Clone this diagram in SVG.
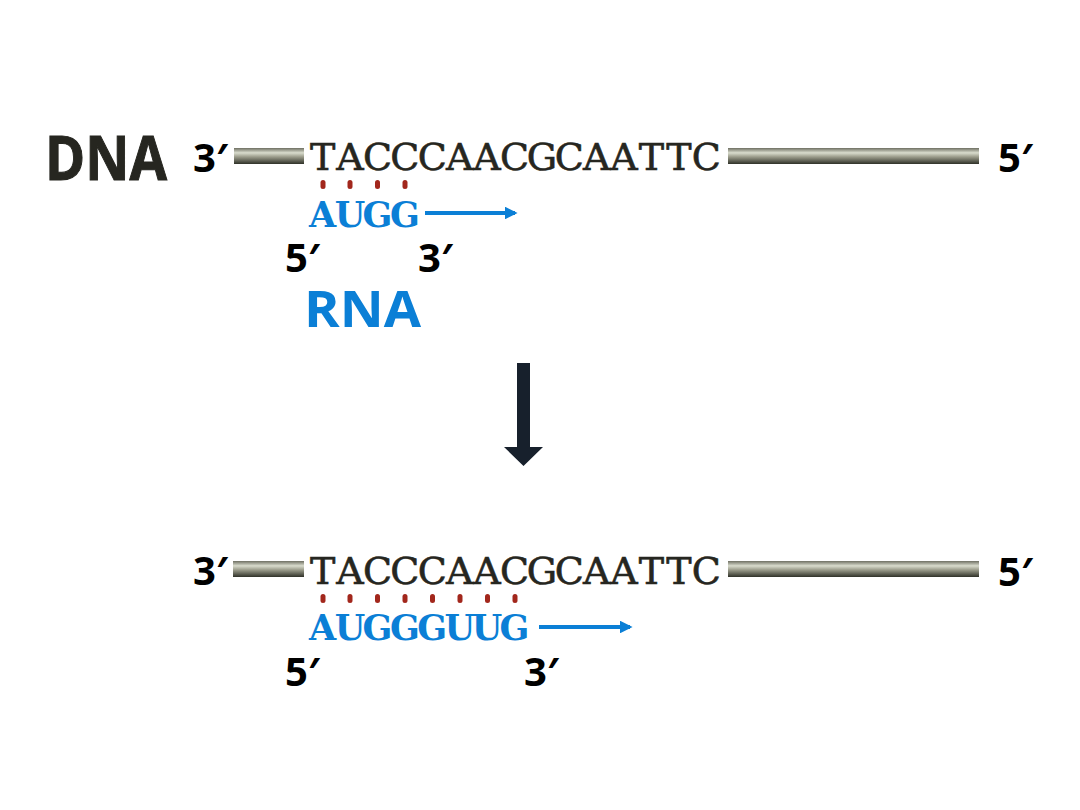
<svg xmlns="http://www.w3.org/2000/svg" width="1080" height="810" viewBox="0 0 1080 810">
<defs>
<linearGradient id="bar" x1="0" y1="0" x2="0" y2="1">
<stop offset="0" stop-color="#6e6f62"/>
<stop offset="0.3" stop-color="#d9dccd"/>
<stop offset="0.55" stop-color="#9c9d8c"/>
<stop offset="1" stop-color="#2f3128"/>
</linearGradient>
<marker id="ah" viewBox="0 0 10 10" refX="8" refY="5" markerWidth="3.2" markerHeight="3.2" orient="auto" markerUnits="strokeWidth">
<path d="M0,0 L10,5 L0,10 z" fill="#0b7fd6"/>
</marker>
<style>
.lbl{font-family:"Open Sans","Liberation Sans",sans-serif;font-weight:700;font-size:40px;fill:#000}
.seq{font-family:"DejaVu Serif","Liberation Serif",serif;font-size:38px;fill:#262620;stroke:#262620;stroke-width:0.6;text-anchor:middle}
.rna{font-family:"DejaVu Serif","Liberation Serif",serif;font-weight:700;font-size:35px;fill:#0b7fd6;text-anchor:middle}
.dot{fill:#a2271c}
.bar{fill:url(#bar)}
.flow{stroke:#0b7fd6;stroke-width:4;fill:none}
</style>
</defs>
<rect width="1080" height="810" fill="#fff"/>

<g id="dna-label"><text x="45" y="180" font-family="'Open Sans','Liberation Sans',sans-serif" font-weight="700" font-size="60" fill="#262620" stroke="#262620" stroke-width="1" textLength="122" lengthAdjust="spacingAndGlyphs">DNA</text></g>

<g id="dna-top">
<text class="lbl" x="193" y="172">3′</text>
<rect class="bar" x="234" y="148" width="70" height="16"/>
<text class="seq" x="322.7 350.1 377.5 404.9 432.3 459.7 487.1 514.5 541.9 569.3 596.7 624.1 651.5 678.9 706.3" y="170">TACCCAACGCAATTC</text>
<rect class="bar" x="728" y="148" width="251" height="16"/>
<text class="lbl" x="998" y="172">5′</text>
</g>

<g id="pairs-top">
<rect class="dot" x="320.5" y="180" width="5" height="9" rx="2.5"/>
<rect class="dot" x="347.5" y="180" width="5" height="9" rx="2.5"/>
<rect class="dot" x="375" y="180" width="5" height="9" rx="2.5"/>
<rect class="dot" x="402.5" y="180" width="5" height="9" rx="2.5"/>
</g>

<g id="rna-top">
<text class="rna" x="322.7 350.1 377.5 404.9" y="227">AUGG</text>
<text class="lbl" x="285" y="272">5′</text>
<text class="lbl" x="418" y="272">3′</text>
<text x="304" y="327" font-family="'Open Sans','Liberation Sans',sans-serif" font-weight="700" font-size="50" fill="#0b7fd6" textLength="117" lengthAdjust="spacingAndGlyphs">RNA</text>
</g>

<g id="connectors">
<line class="flow" x1="425" y1="213" x2="515" y2="213" marker-end="url(#ah)"/>
<line class="flow" x1="539" y1="627" x2="630" y2="627" marker-end="url(#ah)"/>
<path d="M517,363 L530,363 L530,447 L543,447 L523.5,466 L504,447 L517,447 Z" fill="#17202c"/>
</g>

<g id="dna-bottom">
<text class="lbl" x="193" y="585">3′</text>
<rect class="bar" x="233" y="561" width="71" height="16"/>
<text class="seq" x="322.7 350.1 377.5 404.9 432.3 459.7 487.1 514.5 541.9 569.3 596.7 624.1 651.5 678.9 706.3" y="584">TACCCAACGCAATTC</text>
<rect class="bar" x="728" y="561" width="251" height="16"/>
<text class="lbl" x="998" y="586">5′</text>
</g>

<g id="pairs-bottom">
<rect class="dot" x="320.5" y="594" width="5" height="9" rx="2.5"/>
<rect class="dot" x="347.5" y="594" width="5" height="9" rx="2.5"/>
<rect class="dot" x="375" y="594" width="5" height="9" rx="2.5"/>
<rect class="dot" x="402.5" y="594" width="5" height="9" rx="2.5"/>
<rect class="dot" x="430" y="594" width="5" height="9" rx="2.5"/>
<rect class="dot" x="457.5" y="594" width="5" height="9" rx="2.5"/>
<rect class="dot" x="485" y="594" width="5" height="9" rx="2.5"/>
<rect class="dot" x="512.5" y="594" width="5" height="9" rx="2.5"/>
</g>

<g id="rna-bottom">
<text class="rna" x="322.7 350.1 377.5 404.9 432.3 459.7 487.1 514.5" y="640">AUGGGUUG</text>
<text class="lbl" x="285" y="686">5′</text>
<text class="lbl" x="524" y="686">3′</text>
</g>
</svg>
